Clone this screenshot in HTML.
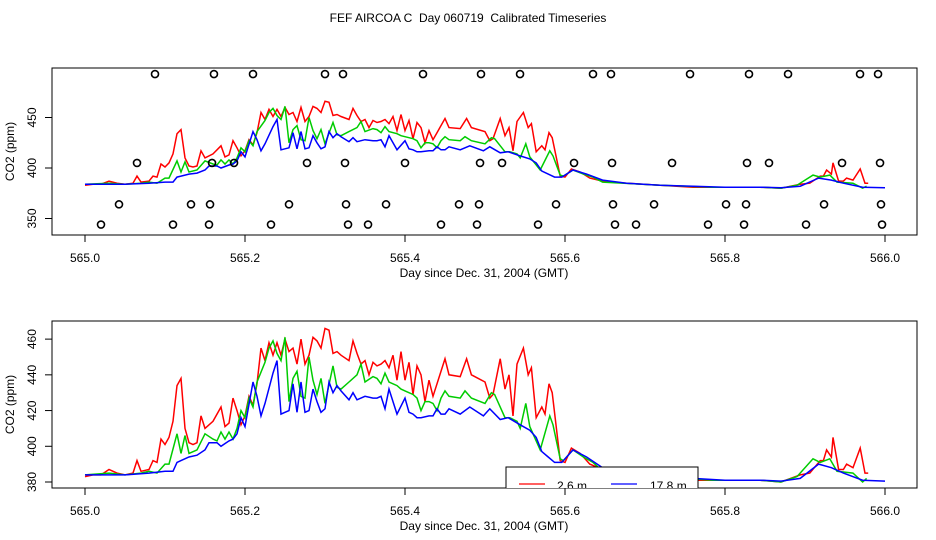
<!DOCTYPE html>
<html><head><meta charset="utf-8"><style>
html,body{margin:0;padding:0;background:#fff;width:936px;height:540px;overflow:hidden}
svg text{font-family:"Liberation Sans",sans-serif;font-size:12px;fill:#000}
</style></head><body>
<svg id="chart" width="936" height="540" xmlns="http://www.w3.org/2000/svg">
<text x="468" y="22" text-anchor="middle">FEF AIRCOA C &#160;Day 060719 &#160;Calibrated Timeseries</text>
</svg>
<script>
const tRed=[565.0,565.01,565.02,565.03,565.04,565.05,565.06,565.065,565.07,565.08,565.085,565.09,565.095,565.1,565.105,565.11,565.115,565.12,565.125,565.13,565.135,565.14,565.145,565.15,565.16,565.17,565.175,565.18,565.185,565.19,565.195,565.2,565.205,565.21,565.215,565.22,565.225,565.23,565.235,565.24,565.245,565.25,565.255,565.26,565.265,565.27,565.275,565.28,565.285,565.29,565.295,565.3,565.305,565.31,565.315,565.32,565.33,565.335,565.34,565.345,565.35,565.355,565.36,565.365,565.37,565.375,565.38,565.385,565.39,565.395,565.4,565.405,565.41,565.415,565.42,565.425,565.43,565.435,565.44,565.45,565.455,565.469,565.477,565.483,565.5,565.506,565.51,565.519,565.525,565.53,565.535,565.54,565.548,565.554,565.558,565.564,565.571,565.575,565.58,565.584,565.594,565.6,565.608,565.619,565.631,565.647,565.677,565.719,565.76,565.8,565.844,565.87,565.894,565.906,565.919,565.923,565.927,565.933,565.935,565.942,565.948,565.952,565.96,565.969,565.975,565.979];
const vRed=[383,384,384,387,385,384,385,392,386,387,392,391,404,401,405,414,434,438,410,402,401,402,417,410,414,422,411,413,427,420,412,417,428,423,435,455,448,458,451,458,451,460,453,455,446,460,446,451,461,459,455,466,465,452,453,451,448,459,452,446,448,440,447,445,446,448,444,451,437,453,437,447,429,445,440,425,437,428,435,449,440,439,449,440,436,427,429,449,432,440,417,446,455,440,444,416,422,418,435,430,392,391,399,396,390,387,385,383,381,381,381,380,384,385,392,392,398,394,405,387,387,390,388,399,385,385];
const tGreen=[565.0,565.03,565.05,565.07,565.08,565.09,565.1,565.105,565.115,565.12,565.125,565.13,565.14,565.15,565.16,565.165,565.17,565.175,565.18,565.185,565.19,565.195,565.2,565.205,565.21,565.215,565.225,565.23,565.235,565.24,565.245,565.25,565.255,565.26,565.265,565.27,565.275,565.28,565.285,565.29,565.295,565.3,565.31,565.315,565.32,565.33,565.34,565.345,565.35,565.36,565.365,565.37,565.375,565.38,565.39,565.395,565.4,565.41,565.415,565.42,565.425,565.43,565.435,565.44,565.445,565.45,565.455,565.469,565.475,565.483,565.5,565.508,565.512,565.525,565.531,565.54,565.544,565.551,565.556,565.569,565.581,565.585,565.594,565.598,565.61,565.623,565.635,565.647,565.719,565.785,565.844,565.87,565.89,565.91,565.919,565.931,565.94,565.96,565.972,565.977];
const vGreen=[384,385,384,385,386,385,390,390,407,396,406,396,398,407,404,403,408,404,408,404,410,420,416,427,422,436,447,455,459,452,448,461,425,438,442,428,427,450,437,429,438,424,445,433,432,436,440,446,436,439,438,435,441,436,434,432,431,429,427,420,425,425,424,420,427,431,428,427,431,427,424,430,429,416,416,414,410,424,411,398,417,412,393,392,398,394,391,386,383,381,381,380,383,393,391,393,386,385,380,382];
const tBlue=[565.0,565.05,565.08,565.1,565.11,565.115,565.12,565.13,565.14,565.15,565.155,565.165,565.17,565.18,565.185,565.19,565.195,565.2,565.21,565.215,565.22,565.225,565.235,565.24,565.245,565.25,565.255,565.26,565.265,565.27,565.275,565.28,565.285,565.29,565.295,565.3,565.305,565.31,565.315,565.32,565.33,565.335,565.34,565.35,565.36,565.365,565.37,565.375,565.38,565.385,565.39,565.4,565.405,565.41,565.415,565.42,565.43,565.435,565.44,565.445,565.45,565.455,565.469,565.481,565.498,565.506,565.519,565.529,565.544,565.556,565.564,565.571,565.579,565.587,565.596,565.61,565.627,565.647,565.677,565.719,565.76,565.8,565.844,565.87,565.894,565.917,565.933,565.948,565.972,566.0];
const vBlue=[384,384,385,386,386,391,392,394,395,398,402,402,400,403,404,407,416,411,436,428,417,424,441,448,418,419,420,435,419,436,419,420,432,425,419,421,436,430,434,431,426,430,426,428,427,427,428,421,432,425,418,427,419,418,416,416,417,417,421,418,418,421,418,422,417,421,415,416,412,409,405,397,394,391,391,398,394,388,385,383,382,381,381,380.5,382,390,388,385,381,380.5];
const circT1=[565.0875,565.1612,565.21,565.3,565.3225,565.4225,565.495,565.5438,565.635,565.6575,565.7563,565.83,565.8788,565.9688,565.9913];
const circV1=493;
const circT2=[565.065,565.1588,565.1863,565.2775,565.325,565.4,565.4938,565.5213,565.6113,565.6588,565.7338,565.8275,565.855,565.9463,565.9938];
const circV2=405;
const circT3=[565.0425,565.1325,565.1563,565.255,565.3263,565.3763,565.4675,565.4925,565.5888,565.66,565.7113,565.8013,565.8263,565.9238,565.995];
const circV3=364;
const circT4=[565.02,565.11,565.155,565.2325,565.3288,565.3538,565.4450,565.49,565.5663,565.6625,565.6888,565.7788,565.8238,565.9013,565.9963];
const circV4=344;
const yTicksTop=[350,400,450];
const yTicksBot=[380,400,420,440,460];
const xTicks=[565.0,565.2,565.4,565.6,565.8,566.0];

const NS='http://www.w3.org/2000/svg';
const svgEl=document.getElementById('chart');
function mk(tag,attrs,parent){const e=document.createElementNS(NS,tag);for(const k in attrs)e.setAttribute(k,attrs[k]);(parent||svgEl).appendChild(e);return e;}
const xS=t=>85+(t-565)*800;
const L=52,R=917;

function panel(name,y0,y1,yS,yTicks){
  const g=mk('g',{});
  
  
  const cid='clip-'+name;
  const cp=mk('clipPath',{id:cid},g);
  mk('rect',{x:L,y:y0,width:R-L,height:y1-y0},cp);
  const series=[[tRed,vRed,'#f00','red-series'],[tGreen,vGreen,'#0c0','green-series'],[tBlue,vBlue,'#00f','blue-series']];
  for(const [ts,vs,c,n] of series){
    const p=mk('polyline',{points:ts.map((t,i)=>xS(t).toFixed(1)+','+yS(vs[i]).toFixed(1)).join(' '),fill:'none',stroke:c,'stroke-width':1.5,'clip-path':'url(#'+cid+')'},g);
    
    
  }
  const fr=mk('rect',{x:L,y:y0,width:R-L,height:y1-y0,fill:'none',stroke:'#000','stroke-width':1},g);
  
  
  for(const t of xTicks){
    const x=xS(t);
    mk('line',{x1:x,x2:x,y1:y1,y2:y1+7,stroke:'#000'},g);
    const tx=mk('text',{x:x,y:y1+27,'text-anchor':'middle'},g);tx.textContent=t.toFixed(1);
    
    
  }
  for(const v of yTicks){
    const y=yS(v);
    mk('line',{x1:L,x2:L-7,y1:y,y2:y,stroke:'#000'},g);
    const tx=mk('text',{x:0,y:0,'text-anchor':'middle',transform:`translate(36,${y}) rotate(-90)`},g);tx.textContent=v;
    
    
  }
  const xl=mk('text',{x:484,y:y1+42,'text-anchor':'middle'},g);xl.textContent='Day since Dec. 31, 2004 (GMT)';
  
  
  const yl=mk('text',{x:0,y:0,'text-anchor':'middle',transform:`translate(14,${(y0+y1)/2}) rotate(-90)`},g);yl.textContent='CO2 (ppm)';
  
  
  return {g:g,cid:cid};
}

const yTop=v=>168-(v-400)*1.01;
const topPanel=panel('top',68,235,yTop,yTicksTop);
for(const [ts,v] of [[circT1,circV1],[circT2,circV2],[circT3,circV3],[circT4,circV4]]){
  for(const t of ts){
    const c=mk('circle',{cx:xS(t),cy:yTop(v),r:3.5,fill:'none',stroke:'#000','stroke-width':1.6},topPanel.g);
    
    
  }
}
const yBot=v=>482-(v-380)*1.786;
const botPanel=panel('bottom',321,488,yBot,yTicksBot);
const lg=mk('g',{'clip-path':'url(#'+botPanel.cid+')'},botPanel.g);


mk('rect',{x:506,y:467,width:192,height:30,fill:'#fff',stroke:'#000'},lg);
mk('line',{x1:519,x2:545,y1:484,y2:484,stroke:'#f00','stroke-width':1.2},lg);
const l1=mk('text',{x:557,y:490},lg);l1.textContent='2.6 m';


mk('line',{x1:611,x2:637,y1:484,y2:484,stroke:'#00f','stroke-width':1.2},lg);
const l2=mk('text',{x:650,y:490},lg);l2.textContent='17.8 m';


</script>
</body></html>
